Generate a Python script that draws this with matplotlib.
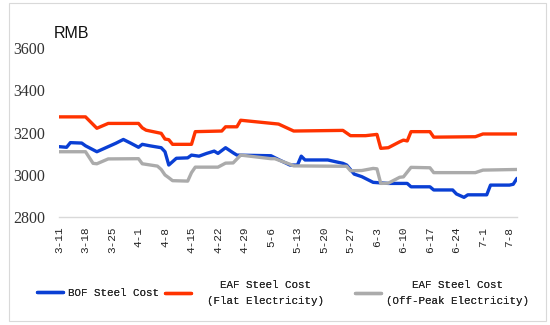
import matplotlib
matplotlib.use('Agg')
import matplotlib.pyplot as plt
from matplotlib.patches import Rectangle
import pandas as pd

# 转炉 / 电炉(平电) / 电炉(谷电) 吨钢成本, 元/吨
bof_dates = ['03-11', '03-13', '03-14', '03-17', '03-18', '03-21', '03-23', '03-26', '03-28', '03-30',
             '04-01', '04-02', '04-04', '04-07', '04-08', '04-09', '04-11', '04-14', '04-15', '04-17',
             '04-19', '04-21', '04-22', '04-24', '04-26', '04-27', '05-06', '05-08', '05-11', '05-13',
             '05-14', '05-15', '05-21', '05-25', '05-26', '05-28', '05-30', '06-02', '06-06', '06-11',
             '06-12', '06-17', '06-18', '06-23', '06-24', '06-26', '06-27', '07-02', '07-03', '07-08',
             '07-09', '07-10']
bof_cost = [3133, 3130, 3152, 3150, 3137, 3109, 3125, 3149, 3167, 3149,
            3130, 3144, 3137, 3128, 3109, 3046, 3078, 3080, 3093, 3088,
            3101, 3112, 3101, 3128, 3104, 3093, 3090, 3072, 3046, 3046,
            3088, 3070, 3070, 3054, 3046, 3003, 2991, 2964, 2959, 2959,
            2943, 2943, 2928, 2928, 2909, 2893, 2905, 2905, 2951, 2951,
            2955, 2983]

flat_dates = ['03-11', '03-18', '03-21', '03-24', '04-01', '04-02', '04-03', '04-07', '04-08', '04-09',
              '04-10', '04-15', '04-16', '04-23', '04-24', '04-27', '04-28', '05-08', '05-12', '05-25',
              '05-27', '05-31', '06-03', '06-04', '06-06', '06-09', '06-10', '06-11', '06-12', '06-17',
              '06-18', '06-29', '07-01', '07-10']
flat_cost = [3274, 3274, 3220, 3243, 3243, 3222, 3211, 3196, 3169, 3166,
             3144, 3144, 3204, 3207, 3227, 3227, 3258, 3240, 3207, 3210,
             3185, 3185, 3191, 3125, 3128, 3156, 3164, 3160, 3204, 3204,
             3178, 3180, 3193, 3193]

peak_dates = ['03-11', '03-18', '03-20', '03-21', '03-24', '04-01', '04-02', '04-06', '04-07', '04-08',
              '04-09', '04-10', '04-14', '04-15', '04-16', '04-22', '04-24', '04-26', '04-28', '05-06',
              '05-07', '05-11', '05-12', '05-26', '05-27', '05-30', '06-02', '06-03', '06-04', '06-06',
              '06-09', '06-10', '06-12', '06-17', '06-18', '06-29', '07-01', '07-10']
peak_cost = [3109, 3109, 3054, 3052, 3075, 3076, 3052, 3041, 3025, 2999,
             2986, 2972, 2970, 3010, 3036, 3036, 3055, 3056, 3093, 3076,
             3076, 3050, 3042, 3040, 3019, 3020, 3030, 3028, 2959, 2960,
             2988, 2990, 3035, 3033, 3010, 3010, 3022, 3025]

yticks = [2800, 3000, 3200, 3400, 3600]


def to_dt(ds):
    return pd.to_datetime(['2024-' + d for d in ds])


fig = plt.figure(figsize=(5.5, 3.25), dpi=100)
ax = fig.add_axes([0.1073, 0.3323, 0.9400 - 0.1073, 0.8523 - 0.3323])

l1, = ax.plot(to_dt(bof_dates), bof_cost, color='#0a3fd4', lw=2.4, solid_capstyle='round')
l2, = ax.plot(to_dt(flat_dates), flat_cost, color='#ff3300', lw=2.4, solid_capstyle='round')
l3, = ax.plot(to_dt(peak_dates), peak_cost, color='#ababab', lw=2.4, solid_capstyle='round')

ax.set_ylim(2800, 3600)
ax.set_yticks(yticks)
ax.set_xlim(pd.Timestamp('2024-03-11'), pd.Timestamp('2024-07-10'))
xt = pd.date_range('2024-03-11', '2024-07-08', freq='7D')
ax.set_xticks(xt)
ax.set_xticklabels([f'{d.month}-{d.day}' for d in xt], rotation=90,
                   family=['Liberation Mono', 'DejaVu Sans Mono'], fontsize=8, color='#262626')
for t in ax.get_yticklabels():
    t.set_family(['Liberation Serif', 'DejaVu Serif'])
    t.set_fontsize(11.5)
    t.set_color('#333333')
ax.tick_params(axis='both', length=0)
ax.tick_params(axis='y', pad=10)
ax.tick_params(axis='x', pad=7)

for s in ['top', 'right', 'left']:
    ax.spines[s].set_visible(False)
ax.spines['bottom'].set_color('#d9d9d9')
ax.spines['bottom'].set_linewidth(1)

fig.text(0.098, 0.898, 'RMB', family=['Liberation Sans', 'DejaVu Sans'],
         fontsize=11.5, va='center', ha='left', color='#111111')

# 图例: 三项分开放, 位置单独调
mono = {'family': ['Liberation Mono', 'DejaVu Sans Mono'], 'size': 7.8}
specs = [(l1, 'BOF Steel Cost', 0.0673, 0.45),
         (l2, 'EAF Steel Cost\n(Flat Electricity)', 0.300, 1.45),
         (l3, 'EAF Steel Cost\n(Off-Peak Electricity)', 0.6455, 0.5)]
for line, label, x0, pad in specs:
    leg = fig.legend([line], [label], loc='center left', bbox_to_anchor=(x0, 0.0985),
                     frameon=False, prop=mono, handlelength=2.4, handletextpad=pad,
                     borderpad=0, borderaxespad=0, labelcolor='#262626')
    for t in leg.get_texts():
        t.set_multialignment('center')
        t.set_linespacing(1.75)
    fig.add_artist(leg)

# 外框
fig.add_artist(Rectangle((0.0164, 0.0123), 0.976, 0.978, transform=fig.transFigure,
                         fill=False, edgecolor='#d9d9d9', lw=0.8))

fig.savefig('out.png', dpi=100)
